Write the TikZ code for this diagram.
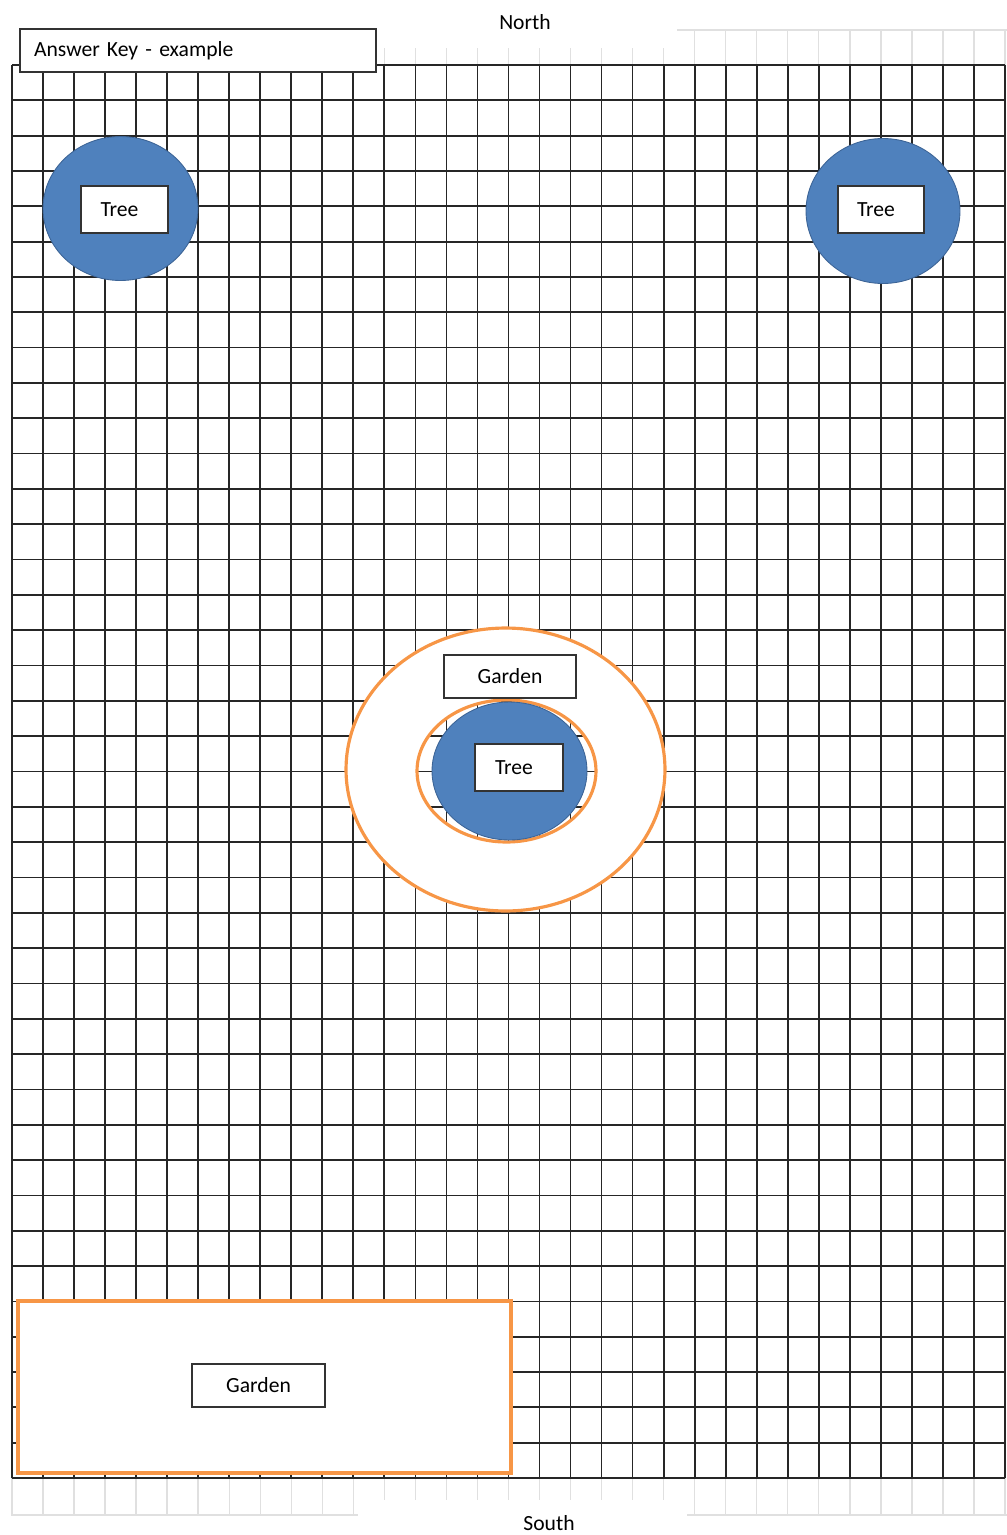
\documentclass[tikz,border=0pt]{standalone}
\usepackage{fontspec}
\setmainfont{Carlito}
\definecolor{treeblue}{RGB}{79,129,189}
\definecolor{treeedge}{RGB}{60,100,150}
\definecolor{gardenorange}{RGB}{247,150,70}
\usetikzlibrary{shapes.geometric,positioning}

\begin{document}
\begin{tikzpicture}[
  x=0.02cm,y=-0.02cm,
  every node/.style={font=\fontsize{12.3}{14}\selectfont},
  gridline/.style={draw=black!85,line width=1pt},
  faintline/.style={draw=black!12,line width=0.8pt},
  treecircle/.style={ellipse,fill=treeblue,draw=treeedge,line width=0.5pt,inner sep=0pt},
  labelbox/.style={draw=black!80,fill=white,line width=0.7pt,inner sep=0pt,align=center},
  gardenline/.style={draw=gardenorange,line width=1.8pt},
]
  \useasboundingbox (0,0) rectangle (1007,1535);

  % faint grid outside the sheet
  \draw[faintline] (677,30) -- (1007,30);
  \foreach \i in {22,...,32} \draw[faintline] ({12+\i*31.03},30) -- ({12+\i*31.03},65);
  \foreach \i in {12,...,21} \draw[faintline] ({12+\i*31.03},48) -- ({12+\i*31.03},65);
  \draw[faintline] (11,1515) -- (358,1515);
  \draw[faintline] (687,1515) -- (1007,1515);
  \foreach \i in {0,...,11,22,23,...,32} \draw[faintline] ({12+\i*31.03},1478) -- ({12+\i*31.03},1515);
  \foreach \i in {12,...,21} \draw[faintline] ({12+\i*31.03},1478) -- ({12+\i*31.03},1500);

  % grid
  \foreach \i in {0,...,32} \draw[gridline] ({12+\i*31.03},65) -- ({12+\i*31.03},1478);
  \foreach \j in {0,...,40} \draw[gridline] (12,{65+\j*35.325}) -- (1005,{65+\j*35.325});

  % compass labels
  \node (north) at (525,22) {North};
  \node (south) at (549,1523) {South};

  % title
  \node[labelbox,minimum width=7.12cm,minimum height=0.86cm,align=left,
        text width=6.56cm] (title) at (198,50.5) {Answer Key - example};

  % trees in the corners
  \node[treecircle,minimum width=3.1cm,minimum height=2.88cm] (treeA) at (120.5,208.5) {};
  \node[labelbox,minimum width=1.74cm,minimum height=0.94cm] (treeAlab) at (124.5,209.5) {Tree\hspace{0.2cm}};
  \node[treecircle,minimum width=3.08cm,minimum height=2.9cm] (treeB) at (883,211) {};
  \node[labelbox,minimum width=1.72cm,minimum height=0.94cm] (treeBlab) at (881,209.5) {Tree\hspace{0.2cm}};

  % round garden with tree
  \fill[white,even odd rule] (505.5,769.5) ellipse [x radius=159.5,y radius=141.5]
                             (506.5,771) ellipse [x radius=89.5,y radius=71];
  \node[ellipse,gardenline,minimum width=6.38cm,minimum height=5.66cm] (roundgarden) at (505.5,769.5) {};
  \node[ellipse,gardenline,minimum width=3.58cm,minimum height=2.84cm] (ring) at (506.5,771) {};
  \node[treecircle,minimum width=3.1cm,minimum height=2.76cm] (treeC) at (509.5,771) {};
  \node[labelbox,minimum width=2.64cm,minimum height=0.86cm] (gardenAlab) at (510,676.5) {Garden};
  \node[labelbox,minimum width=1.76cm,minimum height=0.94cm] (treeClab) at (519,767.5) {Tree\hspace{0.2cm}};

  % bed in the corner
  \node[gardenline,fill=white,minimum width=9.86cm,minimum height=3.44cm,inner sep=0pt] (bed) at (264.5,1387) {};
  \node[labelbox,minimum width=2.66cm,minimum height=0.86cm] (gardenBlab) at (258.5,1385.5) {Garden};
\end{tikzpicture}
\end{document}
